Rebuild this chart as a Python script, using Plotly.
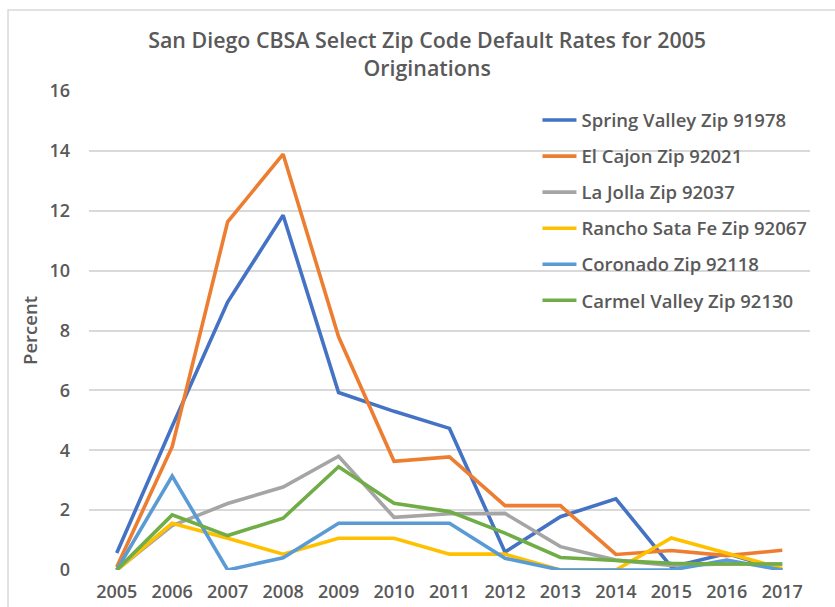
import plotly.graph_objects as go

years = ["2005", "2006", "2007", "2008", "2009", "2010", "2011",
         "2012", "2013", "2014", "2015", "2016", "2017"]

spring_valley = [0.57, 4.8, 8.95, 11.85, 5.93, 5.3, 4.73, 0.6, 1.78, 2.38, 0.1, 0.55, 0.0]
el_cajon = [0.1, 4.12, 11.63, 13.89, 7.79, 3.63, 3.78, 2.15, 2.15, 0.52, 0.65, 0.48, 0.66]
la_jolla = [0.0, 1.48, 2.22, 2.77, 3.8, 1.76, 1.88, 1.89, 0.78, 0.33, 0.15, 0.2, 0.2]
rancho_santa_fe = [0.0, 1.56, 1.06, 0.53, 1.06, 1.06, 0.53, 0.53, 0.0, 0.0, 1.07, 0.55, 0.05]
coronado = [0.0, 3.14, 0.0, 0.41, 1.56, 1.56, 1.56, 0.39, 0.0, 0.0, 0.0, 0.33, 0.0]
carmel_valley = [0.0, 1.84, 1.15, 1.73, 3.45, 2.23, 1.95, 1.23, 0.42, 0.32, 0.22, 0.2, 0.2]

series_names = ["Spring Valley Zip 91978", "El Cajon Zip 92021", "La Jolla Zip 92037",
                "Rancho Sata Fe Zip 92067", "Coronado Zip 92118", "Carmel Valley Zip 92130"]
series_values = [spring_valley, el_cajon, la_jolla, rancho_santa_fe, coronado, carmel_valley]
colors = ["#4472C4", "#ED7D31", "#A5A5A5", "#FFC000", "#5B9BD5", "#70AD47"]

y_ticks = [0, 2, 4, 6, 8, 10, 12, 14, 16]

FONT = "Open Sans"
GREY = "#595959"

fig = go.Figure()
for i, (name, vals, col) in enumerate(zip(series_names, series_values, colors)):
    fig.add_trace(go.Scatter(
        x=years, y=vals, mode="lines", name=name,
        line=dict(color=col, width=3.6),
        legendgroup=f"g{i}",
    ))

fig.update_layout(
    width=835, height=607,
    margin=dict(l=89, r=25, t=91, b=37, autoexpand=False),
    paper_bgcolor="white", plot_bgcolor="white",
    font=dict(family=FONT, color=GREY),
    title=dict(
        text="San Diego CBSA Select Zip Code Default Rates for 2005<br>Originations",
        x=0.469, xref="paper", xanchor="center",
        y=0.921, yref="container", yanchor="top",
        font=dict(family=FONT, size=21.4, color=GREY, weight=600),
    ),
    legend=dict(
        x=0.622, y=0.978, xanchor="left", yanchor="top",
        bgcolor="rgba(0,0,0,0)",
        font=dict(family=FONT, size=18.5, color=GREY, weight=600),
        tracegroupgap=9, itemwidth=34,
    ),
    xaxis=dict(
        type="category", range=[-0.5, 12.5],
        showgrid=False, showline=False, zeroline=False,
        ticks="", ticklabelstandoff=9,
        tickfont=dict(family=FONT, size=18, color=GREY, weight=600),
    ),
    yaxis=dict(
        range=[0, 16], tickvals=y_ticks,
        showgrid=True, gridcolor="#D9D9D9", gridwidth=1.5,
        zeroline=False, showline=False, ticks="",
        ticklabelstandoff=18,
        tickfont=dict(family=FONT, size=18, color=GREY, weight=600),
        title=dict(text="Percent", standoff=6,
                   font=dict(family=FONT, size=18.5, color=GREY, weight=600)),
    ),
    shapes=[dict(type="rect", xref="paper", yref="paper",
                 x0=-0.1123, x1=1.2, y0=-0.3, y1=1.169,
                 line=dict(color="#D9D9D9", width=1.5), layer="below")],
)

fig.write_html("out.html", config={"displayModeBar": False},
               post_script="document.body.style.margin='0';document.body.style.padding='0';")
